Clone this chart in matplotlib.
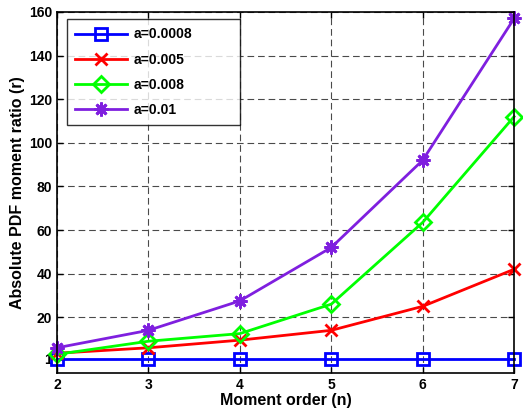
import matplotlib
matplotlib.use("Agg")
import matplotlib.pyplot as plt

n = [2, 3, 4, 5, 6, 7]
labels = ["a=0.0008", "a=0.005", "a=0.008", "a=0.01"]
r_00008 = [1, 1, 1, 1, 1, 1]
r_0005 = [3.5, 6, 9.5, 14, 25, 42]
r_0008 = [3, 9, 12.5, 26, 63.5, 112]
r_001 = [6, 14, 27.5, 52, 92, 157]
yticks = [1, 20, 40, 60, 80, 100, 120, 140, 160]

plt.rcParams['font.family'] = ['Liberation Sans', 'DejaVu Sans']
plt.rcParams['font.weight'] = 'bold'

fig = plt.figure(figsize=(5.23, 4.12), dpi=100)
ax = fig.add_axes([0.109, 0.095, 0.874, 0.876])

series = [r_00008, r_0005, r_0008, r_001]
colors = ['#0000ff', '#ff0000', '#00ff00', '#7f1fdf']
markers = ['s', 'x', 'D', (8, 2, 0)]
msizes = [8, 8, 8, 10]
for vals, c, m, ms, lab in zip(series, colors, markers, msizes, labels):
    kw = dict(markerfacecolor='none') if m in ('s', 'D') else {}
    ax.plot(n, vals, color=c, marker=m, markersize=ms, linewidth=2,
            markeredgewidth=2, label=lab, clip_on=False, **kw)

ax.set_xlim(2, 7)
ax.set_ylim(-5.5, 160)
ax.set_xticks(n)
ax.set_yticks(yticks)
ax.tick_params(direction='in', labelsize=10, width=1, length=4, top=True, right=True)
for lbl in ax.get_xticklabels() + ax.get_yticklabels():
    lbl.set_fontweight('bold')
ax.grid(True, color='#4a4a4a', linestyle=(0, (6, 3.5)), linewidth=0.8)
for s in ax.spines.values():
    s.set_linewidth(1.2)
ax.set_xlabel('Moment order (n)', fontsize=11.5, fontweight='bold', labelpad=1)
ax.set_ylabel('Absolute PDF moment ratio (r)', fontsize=11.5, fontweight='bold', labelpad=3)

leg = ax.legend(loc='upper left', bbox_to_anchor=(0.022, 0.692, 0.378, 0.288),
                mode='expand', borderaxespad=0,
                fancybox=False, edgecolor='black', handlelength=3.7, handletextpad=0.5,
                borderpad=0.6, labelspacing=0.8, prop={'weight': 'bold', 'size': 10})
leg.get_frame().set_linewidth(1.0)

fig.savefig('out.png', dpi=100)
